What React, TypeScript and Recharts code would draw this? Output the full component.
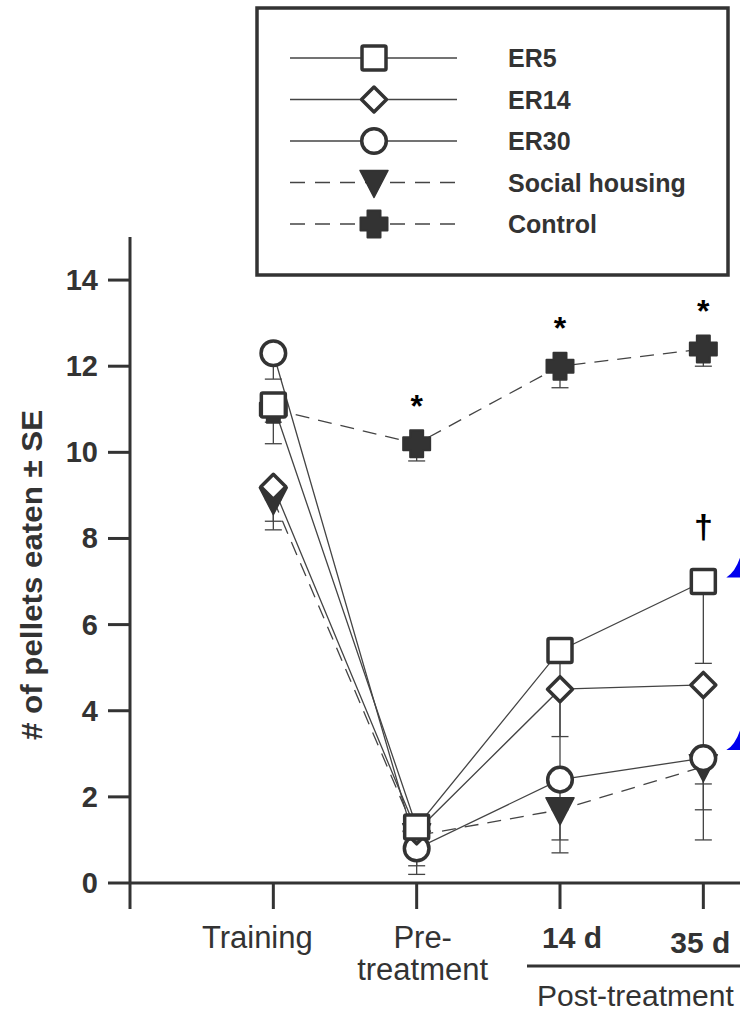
import React from 'react';
import { LineChart, Line, XAxis, YAxis, ErrorBar, Legend, LabelList, ReferenceDot } from 'recharts';

// ---- data ----
const categories = ['Training', 'Pre-\ntreatment', '14 d', '35 d'];
const er5 = [11.1, 1.3, 5.4, 7.0];
const er5Err = [0.9, 0.9, 2.0, 1.9];
const er14 = [9.2, 1.2, 4.5, 4.6];
const er14Err = [0.8, 0.5, 1.9, 2.3];
const er30 = [12.3, 0.8, 2.4, 2.9];
const er30Err = [0.6, 0.6, 1.4, 1.2];
const social = [8.9, 1.1, 1.7, 2.7];
const socialErr = [0.7, 0.4, 1.0, 1.7];
const control = [11.0, 10.2, 12.0, 12.4];
const controlErr = [0.3, 0.4, 0.5, 0.4];
const controlMarks = ['', '*', '*', '*'];
const er5Marks = ['', '', '', '†'];
const yTicks = [0, 2, 4, 6, 8, 10, 12, 14];
const xTicks = [0, 1, 2, 3, 4];
const boldCategories = [false, false, true, true];
const postTreatmentLabel = 'Post-treatment';
const yLabel = '# of pellets eaten ± SE';

const data = categories.map((c, i) => ({
  x: i + 1,
  name: c,
  er5: er5[i],
  er5Err: [er5Err[i], 0],
  er14: er14[i],
  er14Err: [er14Err[i], 0],
  er30: er30[i],
  er30Err: [er30Err[i], 0],
  social: social[i],
  socialErr: [socialErr[i], 0],
  control: control[i],
  controlErr: [controlErr[i], 0],
  controlMark: controlMarks[i],
  er5Mark: er5Marks[i],
}));

type Shape = 'square' | 'diamond' | 'circle' | 'triangle' | 'cross';
interface SeriesDef { key: string; name: string; dashed: boolean; shape: Shape }

// drawing order (bottom -> top)
const drawSeries: SeriesDef[] = [
  { key: 'control', name: 'Control', dashed: true, shape: 'cross' },
  { key: 'social', name: 'Social housing', dashed: true, shape: 'triangle' },
  { key: 'er30', name: 'ER30', dashed: false, shape: 'circle' },
  { key: 'er14', name: 'ER14', dashed: false, shape: 'diamond' },
  { key: 'er5', name: 'ER5', dashed: false, shape: 'square' },
];
const legendSeries: SeriesDef[] = [...drawSeries].reverse();

const FONT = 'Liberation Sans, Arial, Helvetica, sans-serif';
const INK = '#333';
const LINE = '#444';

function Marker({ shape, cx, cy }: { shape: Shape; cx: number; cy: number }) {
  switch (shape) {
    case 'square':
      return <rect x={cx - 12} y={cy - 12} width={24} height={24} rx={1.5} fill="#fff" stroke={INK} strokeWidth={3.5} />;
    case 'diamond':
      return (
        <polygon
          points={`${cx},${cy - 12.5} ${cx + 12.5},${cy} ${cx},${cy + 12.5} ${cx - 12.5},${cy}`}
          fill="#fff" stroke={INK} strokeWidth={3.5} strokeLinejoin="round"
        />
      );
    case 'circle':
      return <circle cx={cx} cy={cy} r={12.3} fill="#fff" stroke={INK} strokeWidth={3.5} />;
    case 'triangle':
      return (
        <polygon
          points={`${cx - 14},${cy - 12} ${cx + 14},${cy - 12} ${cx},${cy + 15}`}
          fill={INK} stroke={INK} strokeWidth={1.5} strokeLinejoin="round"
        />
      );
    case 'cross': {
      const a = 6.5;
      const L = 13.5;
      const d = `M${cx - a},${cy - L} L${cx + a},${cy - L} L${cx + a},${cy - a} L${cx + L},${cy - a} L${cx + L},${cy + a} L${cx + a},${cy + a} L${cx + a},${cy + L} L${cx - a},${cy + L} L${cx - a},${cy + a} L${cx - L},${cy + a} L${cx - L},${cy - a} L${cx - a},${cy - a} Z`;
      return <path d={d} fill={INK} stroke={INK} strokeWidth={2} strokeLinejoin="round" />;
    }
  }
  return null;
}

const makeDot = (shape: Shape) => (props: any) => {
  const { cx, cy, index } = props;
  if (cx == null || cy == null || isNaN(cx) || isNaN(cy)) return <g key={`${shape}-e-${index}`} />;
  return (
    <g key={`${shape}-${index}`}>
      <Marker shape={shape} cx={cx} cy={cy} />
    </g>
  );
};

function getXY(props: any) {
  const x = props.x ?? props.viewBox?.x;
  const y = props.y ?? props.viewBox?.y;
  return { x, y };
}

const AsteriskLabel = (props: any) => {
  const { value } = props;
  if (!value) return null;
  const { x, y } = getXY(props);
  return (
    <text x={x} y={y - 27} textAnchor="middle" fontSize={32} fontWeight="bold" fontFamily={FONT} fill="#000">
      {value}
    </text>
  );
};

const DaggerLabel = (props: any) => {
  const { value } = props;
  if (!value) return null;
  const { x, y } = getXY(props);
  return (
    <text x={x} y={y - 44} textAnchor="middle" fontSize={34} fontWeight="bold" fontFamily={FONT} fill="#000">
      {value}
    </text>
  );
};

const XTick = (props: any) => {
  const { x, y, payload } = props;
  const idx = Math.round(payload.value) - 1;
  if (idx < 0 || idx >= categories.length) return <g />;
  const label = categories[idx];
  const bold = boldCategories[idx];
  const lines = label.split('\n');
  const dxs = [-16, 6, 12, -3];
  const extraDy = [0, 0, 0, 5];
  const cx = x + dxs[idx];
  return (
    <g>
      <text textAnchor="middle" fontFamily={FONT} fontSize={bold ? 30 : 31} fontWeight={bold ? 'bold' : 'normal'} fill={INK}>
        {lines.map((ln, i) => (
          <tspan key={i} x={cx} y={y + 39 + extraDy[idx] + i * 32}>
            {ln}
          </tspan>
        ))}
      </text>
      {idx === 2 && (
        <g>
          <line x1={x - 33} x2={x + 240} y1={y + 57} y2={y + 57} stroke={INK} strokeWidth={3} />
          <text x={x - 23} y={y + 97} fontFamily={FONT} fontSize={30} fill={INK}>
            {postTreatmentLabel}
          </text>
        </g>
      )}
    </g>
  );
};

const YTick = (props: any) => {
  const { x, y, payload } = props;
  return (
    <text x={x} y={y} dy={10} textAnchor="end" fontFamily={FONT} fontSize={29} fontWeight="bold" fill={INK}>
      {payload.value}
    </text>
  );
};

const YLabel = (props: any) => {
  const vb = props.viewBox || { x: 70, y: 237, width: 60, height: 646 };
  const cx = vb.x - 39;
  const cy = vb.y + vb.height / 2 + 15;
  return (
    <text
      x={cx}
      y={cy}
      transform={`rotate(-90, ${cx}, ${cy})`}
      textAnchor="middle"
      dominantBaseline="central"
      fontFamily={FONT}
      fontSize={30}
      fontWeight="bold"
      fill={INK}
      textLength={330}
      lengthAdjust="spacingAndGlyphs"
    >
      {yLabel}
    </text>
  );
};

const LegendBox = () => (
  <svg width={476} height={272} style={{ display: 'block' }}>
    <rect x={2} y={2} width={471} height={267} fill="#fff" stroke={INK} strokeWidth={3.5} />
    {legendSeries.map((s, i) => {
      const y = 52 + i * 41.5;
      return (
        <g key={s.key}>
          <line x1={35} x2={202} y1={y} y2={y} stroke={LINE} strokeWidth={1.3} strokeDasharray={s.dashed ? '15 10' : undefined} />
          <Marker shape={s.shape} cx={119} cy={y} />
          <text x={253} y={y + 9} fontFamily={FONT} fontSize={25} fontWeight="bold" fill={INK}>
            {s.name}
          </text>
        </g>
      );
    })}
  </svg>
);

const makeFin = (tipDy: number) => (props: any) => {
  const { cx, cy } = props;
  if (cx == null || cy == null) return <g />;
  const tx = cx + 23;
  const ty = cy + tipDy;
  const d = `M${tx},${ty} Q${tx + 10},${ty - 6} ${tx + 15},${ty - 24} L${tx + 40},${ty - 24} L${tx + 40},${ty} Z`;
  return <path d={d} fill="#0000ee" />;
};

export default function App() {
  return (
    <div style={{ position: 'absolute', left: 0, top: 0, width: 740, height: 1013, overflow: 'hidden', background: '#fff' }}>
      <LineChart width={860} height={1013} data={data} margin={{ top: 237, right: 13.33, bottom: 10, left: 70 }}>
        <XAxis
          type="number"
          dataKey="x"
          domain={[0, 5]}
          ticks={xTicks}
          interval={0}
          height={120}
          tickSize={26}
          tickMargin={0}
          axisLine={{ stroke: INK, strokeWidth: 3 }}
          tickLine={{ stroke: INK, strokeWidth: 3 }}
          tick={(p: any) => <XTick {...p} />}
        />
        <YAxis
          type="number"
          domain={[0, 15]}
          ticks={yTicks}
          interval={0}
          width={60}
          tickSize={22}
          tickMargin={10}
          axisLine={{ stroke: INK, strokeWidth: 3 }}
          tickLine={{ stroke: INK, strokeWidth: 3 }}
          tick={(p: any) => <YTick {...p} />}
          label={{ content: YLabel }}
        />
        <Legend
          verticalAlign="middle"
          align="center"
          layout="horizontal"
          content={() => <LegendBox />}
          wrapperStyle={{ left: 255, top: 6, width: 476, height: 272 }}
        />
        {/* error bar layer */}
        {drawSeries.map((s) => (
          <Line
            key={`${s.key}-err`}
            dataKey={s.key}
            stroke="none"
            dot={false}
            activeDot={false}
            legendType="none"
            isAnimationActive={false}
          >
            <ErrorBar dataKey={`${s.key}Err`} direction="y" width={8.5} stroke={LINE} strokeWidth={1.3} />
          </Line>
        ))}
        {/* connecting lines layer */}
        {drawSeries.map((s) => (
          <Line
            key={`${s.key}-line`}
            type="linear"
            dataKey={s.key}
            stroke={LINE}
            strokeWidth={1.3}
            strokeDasharray={s.dashed ? '14 9' : undefined}
            dot={false}
            activeDot={false}
            legendType="none"
            isAnimationActive={false}
          />
        ))}
        {/* markers layer */}
        {drawSeries.map((s) => (
          <Line
            key={`${s.key}-dots`}
            dataKey={s.key}
            name={s.name}
            stroke="none"
            dot={makeDot(s.shape)}
            activeDot={false}
            isAnimationActive={false}
          >
            {s.key === 'control' && <LabelList dataKey="controlMark" content={AsteriskLabel} />}
            {s.key === 'er5' && <LabelList dataKey="er5Mark" content={DaggerLabel} />}
          </Line>
        ))}
        <ReferenceDot x={categories.length} y={er5[3]} r={0} shape={makeFin(-4)} ifOverflow="visible" />
        <ReferenceDot x={categories.length} y={er30[3]} r={0} shape={makeFin(-8)} ifOverflow="visible" />
      </LineChart>
    </div>
  );
}
